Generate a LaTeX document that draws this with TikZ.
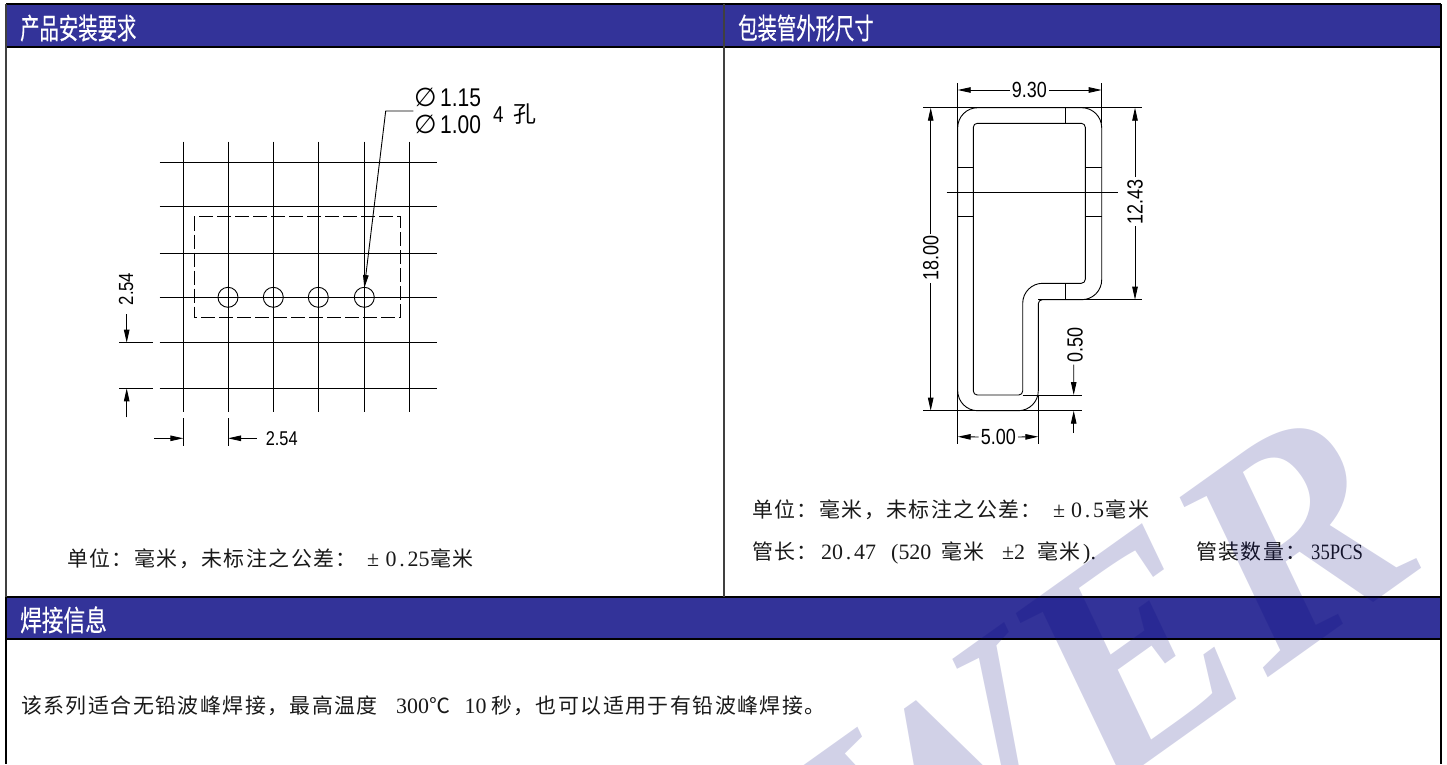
\documentclass[tikz,border=0pt]{standalone}
\usepackage{fontspec}
\usetikzlibrary{arrows.meta}
\setmainfont{Liberation Serif}
\newfontfamily\cjkbody[LetterSpace=7]{Noto Sans CJK SC}
\newfontfamily\cjkplain{Noto Sans CJK SC}
\newfontfamily\cjkhead[FakeStretch=0.67,FakeBold=0.4]{Noto Sans CJK SC}
\newfontfamily\cjkheadw[FakeStretch=0.75,FakeBold=0.4]{Noto Sans CJK SC}
\newfontfamily\dimfont[FakeStretch=0.82]{Liberation Sans}
\newfontfamily\symfont{DejaVu Sans}
\newcommand{\zhb}[1]{{\cjkbody\fontsize{21}{24}\selectfont #1}}
\newcommand{\lat}[1]{{\rmfamily\fontsize{22}{24}\selectfont #1}}
\newcommand{\dotc}{\hbox to 11pt{\hss.\hss}}
\definecolor{headblue}{HTML}{333399}
\definecolor{wm}{HTML}{00007F}
\tikzset{
  frameline/.style={line width=2.4bp,black},
  headfill/.style={fill=headblue,draw=none},
  headtxt/.style={anchor=base west,inner sep=0pt,text=white},
  bodytxt/.style={anchor=base west,inner sep=0pt,text=black!90},
  dimtxt/.style={inner sep=0pt,text=black,font=\dimfont\fontsize{22}{24}\selectfont},
  thin line/.style={line width=0.9bp,black},
  dimarrow/.style={line width=0.9bp,black,-{Stealth[length=13bp,width=5.5bp,inset=0pt]}},
  dashrect/.style={line width=0.9bp,black,dash pattern=on 14bp off 4bp},
}
\begin{document}
\begin{tikzpicture}[x=1bp,y=-1bp]
\useasboundingbox (0,0) rectangle (1447,764);
\fill[white] (0,0) rectangle (1447,764);
% header bands
\fill[headfill] (6,4) rectangle (1441,47);
\fill[headfill] (6,597) rectangle (1441,638);
% frame
\draw[frameline] (6,4) -- (1441,4);
\draw[frameline] (6,47) -- (1441,47);
\draw[frameline] (6,597) -- (1441,597);
\draw[frameline] (6,639) -- (1441,639);
\draw[line width=1.5bp,black!75] (6,4) -- (6,597);
\draw[frameline] (6,597) -- (6,764);
\draw[frameline] (1441,4) -- (1441,764);
\draw[line width=1.5bp,black!75] (724,4) -- (724,597);
% headers
\node[headtxt] (h1) at (20,39) {\cjkhead\fontsize{29}{30}\selectfont 产品安装要求};
\node[headtxt] (h2) at (738,39) {\cjkhead\fontsize{29}{30}\selectfont 包装管外形尺寸};
\node[headtxt] (h3) at (20,631) {\cjkheadw\fontsize{29}{30}\selectfont 焊接信息};
% left drawing: grid
\foreach \x in {183.3,228,273.3,318.3,364.3,409.7} \draw[thin line] (\x,141.7) -- (\x,411.7);
\foreach \y in {162.3,206.7,253.7,297.3,342.7,388.3} \draw[thin line] (159.7,\y) -- (436.7,\y);
\draw[thin line] (119.3,342.7) -- (152.7,342.7);
\draw[thin line] (119.3,388.3) -- (152.7,388.3);
\draw[dashrect] (194,216.7) rectangle (400,317.3);
\foreach \x in {228,273.3,318.3,364.3} \draw[thin line] (\x,297.3) circle[radius=10];
% leader
\coordinate (lead0) at (413.3,111);
\coordinate (lead1) at (385.7,111);
\coordinate (lead2) at (364.3,288);
\draw[dimarrow] (lead0) -- (lead1) -- (lead2);
% left dims
\coordinate (lv1) at (126.7,314.3); \coordinate (lv2) at (126.7,342.7);
\coordinate (lv3) at (126.7,417.3); \coordinate (lv4) at (126.7,388.3);
\draw[dimarrow] (lv1) -- (lv2);
\draw[dimarrow] (lv3) -- (lv4);
\node[dimtxt,rotate=90,font=\dimfont\fontsize{20.5}{22}\selectfont] (d254v) at (126,289) {2.54};
\draw[thin line] (183.3,418.3) -- (183.3,445.7);
\draw[thin line] (228,418.3) -- (228,445.7);
\coordinate (lh1) at (154.3,438.3); \coordinate (lh2) at (183.3,438.3);
\coordinate (lh3) at (256.7,438.3); \coordinate (lh4) at (228,438.3);
\draw[dimarrow] (lh1) -- (lh2);
\draw[dimarrow] (lh3) -- (lh4);
\node[dimtxt,font=\dimfont\fontsize{20}{22}\selectfont] (d254h) at (281.7,439) {2.54};
% hole note
\node[inner sep=0pt,anchor=base west] (phia) at (414,106) {\symfont\fontsize{26}{28}\selectfont ∅};
\node[inner sep=0pt,anchor=base west] (phib) at (414,133) {\symfont\fontsize{26}{28}\selectfont ∅};
\node[dimtxt,anchor=base west,font=\dimfont\fontsize{25.7}{27}\selectfont] (v115) at (440,106) {1.15};
\node[dimtxt,anchor=base west,font=\dimfont\fontsize{25.7}{27}\selectfont] (v100) at (440,133) {1.00};
\node[inner sep=0pt,anchor=base west] (four) at (493,122) {\dimfont\fontsize{23}{24}\selectfont 4};
\node[inner sep=0pt,anchor=base west] (kong) at (513,122) {\cjkplain\fontsize{23}{24}\selectfont 孔};
% right drawing: tube profile
\draw[thin line]
  (977.7,107.7) -- (1081.7,107.7) arc[start angle=-90,end angle=0,radius=20] -- (1101.7,279.7)
  arc[start angle=0,end angle=90,radius=20] -- (1042.3,299.7)
  arc[start angle=-90,end angle=-180,radius=4] -- (1038.3,390.7)
  arc[start angle=0,end angle=90,radius=20] -- (977.7,410.7)
  arc[start angle=90,end angle=180,radius=20] -- (957.7,127.7)
  arc[start angle=180,end angle=270,radius=20] -- cycle;
\draw[thin line]
  (977.3,123.3) -- (1081.3,123.3) arc[start angle=-90,end angle=0,radius=4] -- (1085.3,279.3)
  arc[start angle=0,end angle=90,radius=4] -- (1042.7,283.3)
  arc[start angle=-90,end angle=-180,radius=20] -- (1022.7,391)
  arc[start angle=0,end angle=90,radius=4] -- (977.3,395)
  arc[start angle=90,end angle=180,radius=4] -- (973.3,127.3)
  arc[start angle=180,end angle=270,radius=4] -- cycle;
% ticks through the walls
\draw[thin line] (1065,107.7) -- (1065,123.3);
\draw[thin line] (1065.7,283.3) -- (1065.7,299.7);
\draw[thin line] (957.7,167.7) -- (973.3,167.7);
\draw[thin line] (957.7,216.7) -- (973.3,216.7);
\draw[thin line] (1085.3,167.7) -- (1101.7,167.7);
\draw[thin line] (1085.3,216.7) -- (1101.7,216.7);
\draw[thin line] (946.7,192.3) -- (1117.7,192.3);
% extension lines
\draw[thin line] (957.7,83.3) -- (957.7,444);
\draw[thin line] (1101.7,83.3) -- (1101.7,123);
\draw[thin line] (1038.3,395) -- (1038.3,444);
\draw[thin line] (923.3,107.7) -- (1142.3,107.7);
\draw[thin line] (923.3,410.7) -- (1081.7,410.7);
\draw[thin line] (1038.3,299.7) -- (1142.3,299.7);
\draw[thin line] (1022.7,395) -- (1081.7,395);
% 9.30
\node[dimtxt] (d930) at (1029.3,90) {9.30};
\coordinate (a1) at (957.7,90); \coordinate (a2) at (1101.7,90);
\draw[dimarrow] (d930.west) ++(-2,0) -- (a1);
\draw[dimarrow] (d930.east) ++(2,0) -- (a2);
% 18.00
\node[dimtxt,rotate=90] (d1800) at (930.7,258.3) {18.00};
\coordinate (b1) at (930.7,107.7); \coordinate (b2) at (930.7,410.7);
\draw[dimarrow] (d1800.east) ++(0,-2) -- (b1);
\draw[dimarrow] (d1800.west) ++(0,2) -- (b2);
% 12.43
\node[dimtxt,rotate=90] (d1243) at (1135,201.7) {12.43};
\coordinate (c1) at (1135,107.7); \coordinate (c2) at (1135,299.7);
\draw[dimarrow] (d1243.east) ++(0,-2) -- (c1);
\draw[dimarrow] (d1243.west) ++(0,2) -- (c2);
% 0.50
\node[dimtxt,rotate=90] (d050) at (1075,345) {0.50};
\coordinate (e1) at (1073.7,395); \coordinate (e2) at (1073.7,410.7);
\coordinate (e3) at (1073.7,433);
\draw[dimarrow] (d050.west) ++(-1.3,2) -- (e1);
\draw[dimarrow] (e3) -- (e2);
% 5.00
\node[dimtxt] (d500) at (998.3,437) {5.00};
\coordinate (f1) at (957.7,436.7); \coordinate (f2) at (1038.3,436.7);
\draw[dimarrow] (d500.west) ++(-2,0) -- (f1);
\draw[dimarrow] (d500.east) ++(2,0) -- (f2);
% body text
\node[bodytxt] (t1a) at (67,566) {\zhb{单位：毫米，未标注之公差：}};
\node[bodytxt] (t1b) at (367,566) {\lat{±}};
\node[bodytxt] (t1c) at (385.5,566) {\lat{0\dotc25}};
\node[bodytxt] (t1d) at (430,566) {\zhb{毫米}};
\node[bodytxt] (t2a) at (752,517) {\zhb{单位：毫米，未标注之公差：}};
\node[bodytxt] (t2b) at (1053,517) {\lat{±}};
\node[bodytxt] (t2c) at (1071,517) {\lat{0\dotc5}};
\node[bodytxt] (t2d) at (1105.5,517) {\zhb{毫米}};
\node[bodytxt] (t3a) at (752,559) {\zhb{管长：}};
\node[bodytxt] (t3b) at (821,559) {\lat{20\dotc47}};
\node[bodytxt] (t3c) at (891,559) {\lat{(520}};
\node[bodytxt] (t3d) at (941,559) {\zhb{毫米}};
\node[bodytxt] (t3e) at (1002,559) {\lat{±2}};
\node[bodytxt] (t3f) at (1037,559) {\zhb{毫米}};
\node[bodytxt] (t3g) at (1083,559) {\lat{).}};
\node[bodytxt] (t3h) at (1196,559) {\zhb{管装数量：}};
\node[bodytxt] (t3i) at (1311,559) {\lat{\addfontfeature{FakeStretch=0.85}35PCS}};
\node[bodytxt] (t4a) at (21,713) {\zhb{该系列适合无铅波峰焊接，最高温度}};
\node[bodytxt] (t4b) at (396,713) {\lat{300}};
\node[bodytxt] (t4c) at (429,713) {\zhb{℃}};
\node[bodytxt] (t4d) at (464.5,713) {\lat{10}};
\node[bodytxt] (t4e) at (491,713) {\zhb{秒，也可以适用于有铅波峰焊接。}};
% watermark
\begin{scope}
\clip (0,0) rectangle (1447,764);
\node[anchor=base east,inner sep=0pt,rotate=35.5,text=wm,text opacity=0.18] (wmk) at (1433,560)
  {\rmfamily\bfseries\itshape\fontsize{303}{303}\selectfont WER};
\end{scope}
\end{tikzpicture}
\end{document}
